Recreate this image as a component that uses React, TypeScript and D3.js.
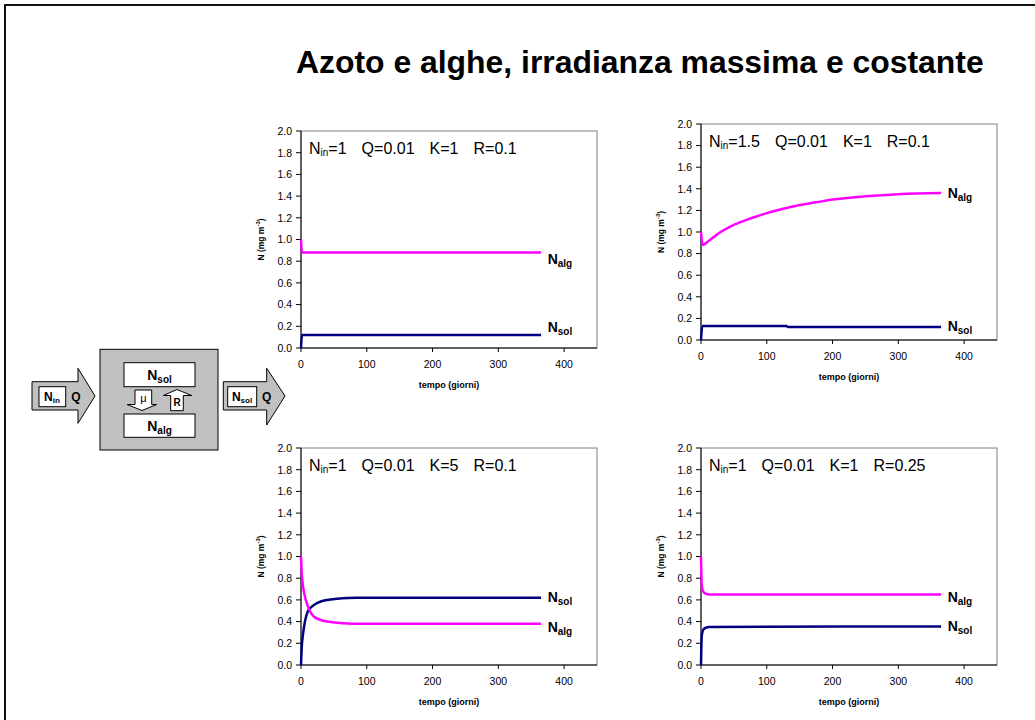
import React from 'react';
import * as d3 from 'd3';

const TITLE = 'Azoto e alghe, irradianza massima e costante';
const X_TICKS = [0, 100, 200, 300, 400];
const Y_TICKS = [0, 0.2, 0.4, 0.6, 0.8, 1.0, 1.2, 1.4, 1.6, 1.8, 2.0];
const X_LABEL = 'tempo (giorni)';

// parameters of each run
const NIN = ['1', '1.5', '1', '1'];
const QV = ['0.01', '0.01', '0.01', '0.01'];
const KV = ['1', '1', '5', '1'];
const RV = ['0.1', '0.1', '0.1', '0.25'];

// chart 1: Nin=1 K=1 R=0.1
const T1 = [0, 1.5, 365];
const ALG1 = [1.0, 0.88, 0.88];
const SOL1 = [0.0, 0.12, 0.12];

// chart 2: Nin=1.5
const T2A = [0, 2.5, 10, 25, 50, 75, 100, 125, 150, 175, 200, 250, 300, 365];
const ALG2 = [1.0, 0.88, 0.91, 0.98, 1.065, 1.125, 1.175, 1.215, 1.25, 1.275, 1.3, 1.33, 1.35, 1.36];
const T2S = [0, 2, 130, 132, 365];
const SOL2 = [0.0, 0.13, 0.13, 0.12, 0.12];

// chart 3: K=5
const T3 = [0, 1, 3, 6, 10, 15, 20, 30, 40, 55, 85, 365];
const ALG3 = [1.0, 0.86, 0.73, 0.63, 0.55, 0.48, 0.445, 0.415, 0.4, 0.39, 0.38, 0.38];
const SOL3 = [0.0, 0.15, 0.28, 0.4, 0.49, 0.53, 0.555, 0.585, 0.6, 0.61, 0.62, 0.62];

// chart 4: R=0.25
const T4 = [0, 1, 2, 4, 8, 12, 365];
const ALG4 = [1.0, 0.75, 0.7, 0.67, 0.655, 0.65, 0.65];
const SOL4 = [0.0, 0.25, 0.3, 0.33, 0.345, 0.35, 0.355];

// series label positions (value on y axis of the label)
const LABEL_T = 375;
const ALG_LABEL_Y = [0.82, 1.36, 0.35, 0.63];
const SOL_LABEL_Y = [0.19, 0.13, 0.63, 0.36];

const FONT = '"Liberation Sans", Arial, Helvetica, sans-serif';
const MAGENTA = '#FF00FF';
const NAVY = '#000080';

type PanelProps = {
  idx: number;
  x0: number; x1: number; yTop: number; yBot: number;
  algT: number[]; alg: number[]; solT: number[]; sol: number[];
};

function Panel({ idx, x0, x1, yTop, yBot, algT, alg, solT, sol }: PanelProps) {
  const xs = d3.scaleLinear().domain([0, 450]).range([x0, x1]);
  const ys = d3.scaleLinear().domain([0, 2]).range([yBot, yTop]);
  const line = d3
    .line<[number, number]>()
    .x((d) => xs(d[0]))
    .y((d) => ys(d[1]))
    .curve(d3.curveMonotoneX);
  const algPts = algT.map((t, i) => [t, alg[i]] as [number, number]);
  const solPts = solT.map((t, i) => [t, sol[i]] as [number, number]);
  const fmt = d3.format('.1f');
  const cx = (x0 + x1) / 2;
  const cy = (yTop + yBot) / 2;
  return (
    <g fontFamily={FONT}>
      <rect x={x0} y={yTop} width={x1 - x0} height={yBot - yTop} fill="#fff" stroke="#808080" strokeWidth={1} />
      <line x1={x0} x2={x0} y1={yTop} y2={yBot} stroke="#000" strokeWidth={1} />
      <line x1={x0} x2={x1} y1={yBot} y2={yBot} stroke="#000" strokeWidth={1} />
      {Y_TICKS.map((v) => (
        <g key={'y' + v}>
          <line x1={x0 - 5} x2={x0} y1={ys(v)} y2={ys(v)} stroke="#000" />
          <text x={x0 - 9} y={ys(v) + 3.8} textAnchor="end" fontSize={10.5} fill="#000">
            {fmt(v)}
          </text>
        </g>
      ))}
      {X_TICKS.map((v) => (
        <g key={'x' + v}>
          <line x1={xs(v)} x2={xs(v)} y1={yBot} y2={yBot + 4} stroke="#000" />
          <text x={xs(v)} y={yBot + 20} textAnchor="middle" fontSize={10.5} fill="#000">
            {v}
          </text>
        </g>
      ))}
      <text x={cx} y={yBot + 40} textAnchor="middle" fontSize={9} fontWeight="bold">
        {X_LABEL}
      </text>
      <text
        transform={`translate(${x0 - 37},${cy}) rotate(-90)`}
        textAnchor="middle"
        fontSize={8.5}
        fontWeight="bold"
      >
        N (mg m<tspan fontSize={6} dy={-4}>-3</tspan>
        <tspan dy={4}>)</tspan>
      </text>
      <text x={x0 + 8} y={yTop + 23} fontSize={16} fill="#000">
        N<tspan fontSize={10} dy={2}>in</tspan>
        <tspan dy={-2}>={NIN[idx]}</tspan>
        <tspan dx={15}>Q={QV[idx]}</tspan>
        <tspan dx={15}>K={KV[idx]}</tspan>
        <tspan dx={15}>R={RV[idx]}</tspan>
      </text>
      <path d={line(solPts) || ''} fill="none" stroke={NAVY} strokeWidth={2.5} />
      <path d={line(algPts) || ''} fill="none" stroke={MAGENTA} strokeWidth={2.5} />
      <text x={xs(LABEL_T)} y={ys(ALG_LABEL_Y[idx]) + 5} fontSize={14} fontWeight="bold">
        N<tspan fontSize={10} dy={3}>alg</tspan>
      </text>
      <text x={xs(LABEL_T)} y={ys(SOL_LABEL_Y[idx]) + 5} fontSize={14} fontWeight="bold">
        N<tspan fontSize={10} dy={3}>sol</tspan>
      </text>
    </g>
  );
}

function Diagram() {
  const gray = '#C0C0C0';
  return (
    <g fontFamily={FONT} fontWeight="bold">
      {/* input arrow */}
      <path d="M32,381.7 H78 V368.3 L95,396 L78,423.3 V410 H32 Z" fill={gray} stroke="#000" strokeWidth={1} />
      <rect x={39} y={386.7} width={26.7} height={20} fill="#fff" stroke="#000" strokeWidth={1} />
      <text x={52} y={401} textAnchor="middle" fontSize={12}>
        N<tspan fontSize={8} dy={2}>in</tspan>
      </text>
      <text x={76} y={401} textAnchor="middle" fontSize={12}>Q</text>

      {/* box */}
      <rect x={100} y={349.3} width={118} height={100.7} fill={gray} stroke="#000" strokeWidth={1} />
      <rect x={124} y={362.7} width={71} height={24} fill="#fff" stroke="#000" strokeWidth={1} />
      <text x={159.5} y={380} textAnchor="middle" fontSize={14}>
        N<tspan fontSize={10} dy={3}>sol</tspan>
      </text>
      <rect x={124} y={414} width={71} height={23.3} fill="#fff" stroke="#000" strokeWidth={1} />
      <text x={159.5} y={431} textAnchor="middle" fontSize={14}>
        N<tspan fontSize={10} dy={3}>alg</tspan>
      </text>
      {/* mu arrow (down) */}
      <path d="M135,390 H151.7 V404.5 H156.7 L142,410.5 L127,404.5 H135 Z" fill="#fff" stroke="#000" strokeWidth={1} />
      <text x={143.3} y={402} textAnchor="middle" fontSize={11} fontWeight="normal">μ</text>
      {/* R arrow (up) */}
      <path d="M170.7,410.7 H183.3 V395.5 H191.7 L177,389.5 L163.3,395.5 H170.7 Z" fill="#fff" stroke="#000" strokeWidth={1} />
      <text x={177} y={406} textAnchor="middle" fontSize={10}>R</text>

      {/* output arrow */}
      <path d="M223.3,381.7 H266.7 V368.3 L285,396 L266.7,425 V410 H223.3 Z" fill={gray} stroke="#000" strokeWidth={1} />
      <rect x={227.7} y={386.7} width={29} height={20} fill="#fff" stroke="#000" strokeWidth={1} />
      <text x={242} y={401} textAnchor="middle" fontSize={12}>
        N<tspan fontSize={8} dy={2}>sol</tspan>
      </text>
      <text x={266.7} y={401} textAnchor="middle" fontSize={12}>Q</text>
    </g>
  );
}

export default function App() {
  return (
    <svg
      width={1035}
      height={720}
      style={{ position: 'absolute', left: 0, top: 0, background: '#fff' }}
    >
      <rect x={0} y={0} width={1035} height={720} fill="#fff" />
      <line x1={4} x2={1035} y1={5} y2={5} stroke="#111" strokeWidth={2} />
      <line x1={5} x2={5} y1={4} y2={720} stroke="#111" strokeWidth={2} />
      <text x={296} y={73} fontFamily={FONT} fontWeight="bold" fontSize={31.9} fill="#000">
        {TITLE}
      </text>
      <Diagram />
      <Panel idx={0} x0={301} x1={597} yTop={131} yBot={348} algT={T1} alg={ALG1} solT={T1} sol={SOL1} />
      <Panel idx={1} x0={701} x1={997} yTop={124} yBot={340} algT={T2A} alg={ALG2} solT={T2S} sol={SOL2} />
      <Panel idx={2} x0={301} x1={597} yTop={448} yBot={665} algT={T3} alg={ALG3} solT={T3} sol={SOL3} />
      <Panel idx={3} x0={701} x1={997} yTop={448} yBot={665} algT={T4} alg={ALG4} solT={T4} sol={SOL4} />
    </svg>
  );
}
